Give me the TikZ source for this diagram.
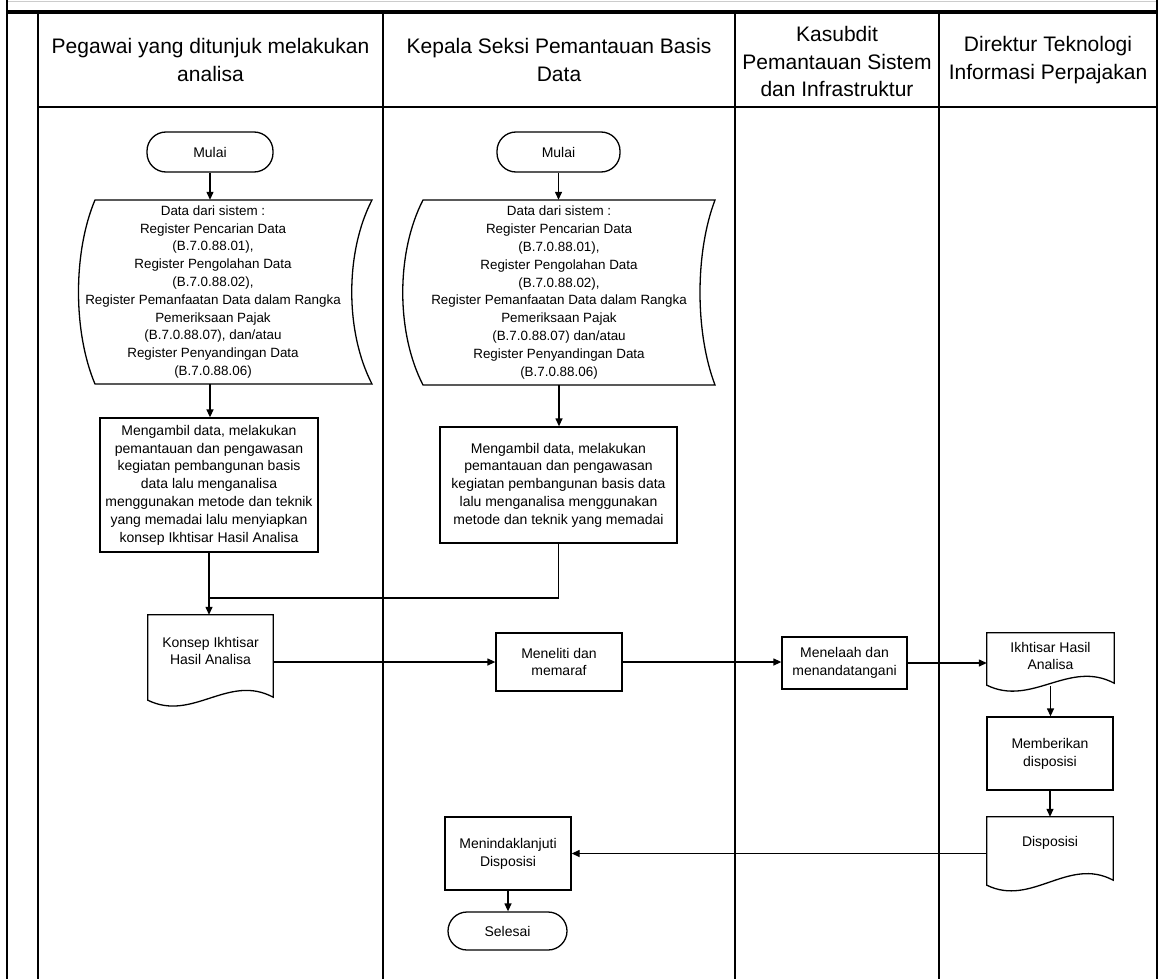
\documentclass[tikz,border=0pt]{standalone}
\usepackage{fontspec}
\setmainfont{Liberation Sans}
\usetikzlibrary{arrows.meta,calc}
\tikzset{
  lane/.style={line width=1.5pt},
  frameline/.style={line width=2.5pt},
  box/.style={draw, line width=1.3pt, inner sep=0pt, align=center, font=\fontsize{14}{17.8}\selectfont},
  term/.style={box, rounded corners=19pt},
  txt/.style={inner sep=0pt, align=center, font=\fontsize{14}{17.8}\selectfont},
  datatxt/.style={inner sep=0pt, align=center, font=\fontsize{13.4}{17.8}\selectfont},
  hdr/.style={inner sep=0pt, align=center, font=\fontsize{21}{27.5}\selectfont},
  arr/.style={line width=1.3pt, -{Triangle[length=8pt,width=7pt]}},
  con/.style={line width=1.3pt},
  shp/.style={line width=1.3pt},
}
\newcommand{\docshape}[3]{\draw[shp] (#1.north west) -- ($(#1.south west)+(0,#2)$) .. controls ($(#1.south west)+(45,#2+22)$) and ($(#1.south east)+(-45,#3-24)$) .. ($(#1.south east)+(0,#3)$) -- (#1.north east) -- cycle;}
\begin{document}
\begin{tikzpicture}[x=1pt,y=-1pt]
\useasboundingbox (0,0) rectangle (1161,979);
\fill[white] (0,0) rectangle (1161,979);
% frame
\draw[gray!40, line width=1pt] (7,1.5) -- (1157,1.5);
\draw[frameline] (7,0) -- (7,979);
\draw[frameline] (1157,0) -- (1157,979);
\draw[line width=3.5pt] (7,12) -- (1157,12);
\draw[lane] (38,12) -- (38,979);
\draw[lane] (383,12) -- (383,979);
\draw[lane] (735,12) -- (735,979);
\draw[lane] (939,12) -- (939,979);
\draw[lane] (38,107) -- (1157,107);
% headers
\node[hdr] (h1) at (210.5,60) {Pegawai yang ditunjuk melakukan\\analisa};
\node[hdr] (h2) at (559,60) {Kepala Seksi Pemantauan Basis\\Data};
\node[hdr] (h3) at (837,61.5) {Kasubdit\\Pemantauan Sistem\\dan Infrastruktur};
\node[hdr] (h4) at (1048,60) {Direktur Teknologi\\Informasi Perpajakan};
% lane 1
\node[term, minimum width=126pt, minimum height=40pt] (mulai1) at (210,152) {Mulai};
\node[datatxt, minimum width=240pt, minimum height=184pt] (data1) at (213,292) {Data dari sistem :\\Register Pencarian Data\\(B.7.0.88.01),\\Register Pengolahan Data\\(B.7.0.88.02),\\Register Pemanfaatan Data dalam Rangka\\Pemeriksaan Pajak\\(B.7.0.88.07), dan/atau\\Register Penyandingan Data\\(B.7.0.88.06)};
\draw[shp] ($(data1)+(-118,-92)$) -- ($(data1)+(159,-92)$) .. controls ($(data1)+(132,-40)$) and ($(data1)+(132,40)$) .. ($(data1)+(159,92)$) -- ($(data1)+(-118,92)$) .. controls ($(data1)+(-140,40)$) and ($(data1)+(-140,-40)$) .. cycle;
\node[box, minimum width=218pt, minimum height=134pt] (proc1) at (209,485) {Mengambil data, melakukan\\pemantauan dan pengawasan\\kegiatan pembangunan basis\\data lalu menganalisa\\menggunakan metode dan teknik\\yang memadai lalu menyiapkan\\konsep Ikhtisar Hasil Analisa};
\node[txt, minimum width=125pt, minimum height=72pt] (konsep) at (210.5,651) {Konsep Ikhtisar\\Hasil Analisa};
\docshape{konsep}{13}{10}
% lane 2
\node[term, minimum width=123pt, minimum height=40pt] (mulai2) at (558.5,152) {Mulai};
\node[datatxt, minimum width=260pt, minimum height=185pt] (data2) at (559,292.5) {Data dari sistem :\\Register Pencarian Data\\(B.7.0.88.01),\\Register Pengolahan Data\\(B.7.0.88.02),\\Register Pemanfaatan Data dalam Rangka\\Pemeriksaan Pajak\\(B.7.0.88.07) dan/atau\\Register Penyandingan Data\\(B.7.0.88.06)};
\draw[shp] ($(data2)+(-136,-92.5)$) -- ($(data2)+(156,-92.5)$) .. controls ($(data2)+(136,-40)$) and ($(data2)+(136,40)$) .. ($(data2)+(156,92.5)$) -- ($(data2)+(-136,92.5)$) .. controls ($(data2)+(-163,40)$) and ($(data2)+(-163,-40)$) .. cycle;
\node[box, minimum width=237pt, minimum height=116pt] (proc2) at (558.5,485) {Mengambil data, melakukan\\pemantauan dan pengawasan\\kegiatan pembangunan basis data\\lalu menganalisa menggunakan\\metode dan teknik yang memadai};
\node[box, minimum width=126pt, minimum height=58pt] (meneliti) at (559,662) {Meneliti dan\\memaraf};
\node[box, minimum width=126pt, minimum height=73pt] (menin) at (508,853.5) {Menindaklanjuti\\Disposisi};
\node[term, minimum width=119pt, minimum height=38pt] (selesai) at (507.5,931) {Selesai};
% lane 3
\node[box, minimum width=125pt, minimum height=52pt] (menelaah) at (844.5,663) {Menelaah dan\\menandatangani};
% lane 4
\node[txt, minimum width=127pt, minimum height=46pt] (ikh) at (1050.5,656) {Ikhtisar Hasil\\Analisa};
\docshape{ikh}{6}{4}
\node[box, minimum width=126pt, minimum height=73pt] (memb) at (1050,753.5) {Memberikan\\disposisi};
\node[txt, minimum width=126pt, minimum height=52pt] (disp) at (1050,843) {Disposisi};
\docshape{disp}{16}{11}
% connectors
\coordinate (jn) at (209,598);
\coordinate (ikhb) at ($(ikh.south)+(0,7)$);
\draw[arr] (mulai1.south) -- (mulai1.south |- data1.north);
\draw[arr] (data1.south -| mulai1.south) -- (mulai1.south |- proc1.north);
\draw[arr] (proc1.south) -- (proc1.south |- konsep.north);
\draw[arr] (mulai2.south) -- (mulai2.south |- data2.north);
\draw[arr] (data2.south) -- (data2.south |- proc2.north);
\draw[con] (proc2.south) |- (jn);
\draw[arr] (konsep.east |- meneliti.west) -- (meneliti.west);
\draw[arr] (meneliti.east) -- (menelaah.west |- meneliti.east);
\draw[arr] (menelaah.east) -- (ikh.west |- menelaah.east);
\draw[arr] (ikhb) -- (ikhb |- memb.north);
\draw[arr] (memb.south) -- (memb.south |- disp.north);
\draw[arr] (disp.west |- menin.east) -- (menin.east);
\draw[arr] (menin.south) -- (menin.south |- selesai.north);
\end{tikzpicture}
\end{document}
